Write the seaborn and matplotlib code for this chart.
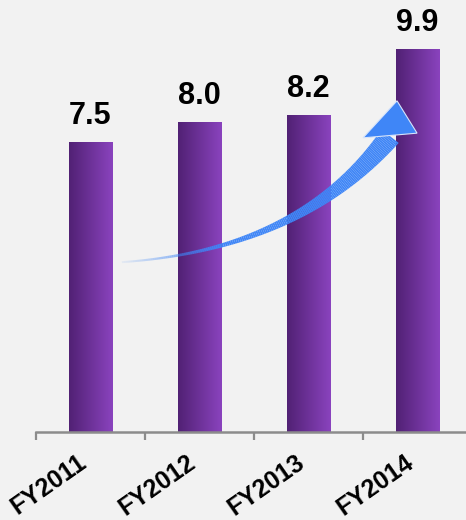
import numpy as np
import pandas as pd
import matplotlib
matplotlib.use("Agg")
import matplotlib.pyplot as plt
from matplotlib.colors import LinearSegmentedColormap, to_rgba
from matplotlib.collections import PolyCollection
from matplotlib.patches import Polygon
import seaborn as sns

# Data
years = ["FY2011", "FY2012", "FY2013", "FY2014"]
values = [7.5, 8.0, 8.2, 9.9]

# Style
BG = "#f2f2f2"
BAR_DARK = "#512174"
BAR_LIGHT = "#8a43be"
ARROW = "#3f86f7"
AXIS_GREY = "#8c8c8c"

sns.set_theme(style="white")
plt.rcParams["font.family"] = ["Liberation Sans", "DejaVu Sans"]

W, H, DPI = 466, 520, 100
fig = plt.figure(figsize=(W / DPI, H / DPI), dpi=DPI, facecolor=BG)
ax = fig.add_axes([36 / W, 88 / H, 436 / W, 425.7 / H])
ax.set_facecolor(BG)

df = pd.DataFrame({"year": years, "value": values})
sns.barplot(data=df, x="year", y="value", width=0.4, color=BAR_LIGHT,
            saturation=1, ax=ax, zorder=2)

# Horizontal purple gradient inside every bar
cmap = LinearSegmentedColormap.from_list("bar", [BAR_DARK, BAR_LIGHT])
grad = np.linspace(0, 1, 256).reshape(1, -1)
bars = list(ax.patches)
for patch, v in zip(bars, values):
    x0, y0 = patch.get_x(), patch.get_y()
    w, h = patch.get_width(), patch.get_height()
    im = ax.imshow(grad, cmap=cmap, aspect="auto", interpolation="bicubic",
                   extent=(x0, x0 + w, y0, y0 + h), zorder=2)
    im.set_clip_path(patch)
    patch.set_facecolor("none")
    patch.set_edgecolor("none")
    ax.annotate(f"{v:.1f}", (x0 + w / 2, y0 + h), xytext=(0, 13),
                textcoords="offset points", ha="center", va="baseline",
                fontsize=22, fontweight="bold", color="black", zorder=5)

ax.set_xlim(-0.5, 3.5)
ax.set_ylim(0, 11)
for s in ["top", "right", "left"]:
    ax.spines[s].set_visible(False)
ax.spines["bottom"].set_color(AXIS_GREY)
ax.spines["bottom"].set_linewidth(1.8)
ax.set_yticks([])
ax.set_xlabel("")
ax.set_ylabel("")
ax.set_xticks(range(len(years)))
ax.set_xticklabels(years, rotation=35, ha="right", fontsize=18,
                   fontweight="bold", color="black")
ax.tick_params(axis="x", which="major", bottom=True, length=0, pad=13)
ax.set_xticks(np.arange(-0.5, len(years), 1), minor=True)
ax.tick_params(axis="x", which="minor", bottom=True, length=6, width=1.6,
               color=AXIS_GREY, direction="out")

# Curved growth arrow (axes-fraction anchor points, shaped in display space)
tail = np.array([0.197, 0.399])
ctrl = np.array([0.606, 0.428])
end = np.array([0.812, 0.695])
head = np.array([[0.750, 0.691], [0.828, 0.778], [0.874, 0.702]])

to_disp = ax.transAxes.transform
to_axes = ax.transAxes.inverted().transform
P0, P1, P2 = to_disp(tail), to_disp(ctrl), to_disp(end)
t = np.linspace(0, 1, 160)[:, None]
pts = (1 - t) ** 2 * P0 + 2 * (1 - t) * t * P1 + t ** 2 * P2
tang = 2 * (1 - t) * (P1 - P0) + 2 * t * (P2 - P1)
tang /= np.linalg.norm(tang, axis=1, keepdims=True)
normal = np.column_stack([-tang[:, 1], tang[:, 0]])
width = (2 + 20 * t[:, 0] ** 1.9) * DPI / 100
left = to_axes(pts + normal * width[:, None] / 2)
right = to_axes(pts - normal * width[:, None] / 2)

quads, colors = [], []
for i in range(len(t) - 1):
    quads.append([left[i], left[i + 1], right[i + 1], right[i]])
    a = float(np.clip(0.08 + t[i, 0] / 0.3 * 0.92, 0, 1))
    colors.append(to_rgba(ARROW, a))
shaft = PolyCollection(quads, facecolors=colors, edgecolors="none",
                       transform=ax.transAxes, zorder=4)
ax.add_collection(shaft)
ax.add_patch(Polygon(head, closed=True, facecolor=ARROW, edgecolor="#d6e4fb",
                     linewidth=0.8, transform=ax.transAxes, zorder=4))

fig.savefig("out.png", dpi=DPI, facecolor=BG)
